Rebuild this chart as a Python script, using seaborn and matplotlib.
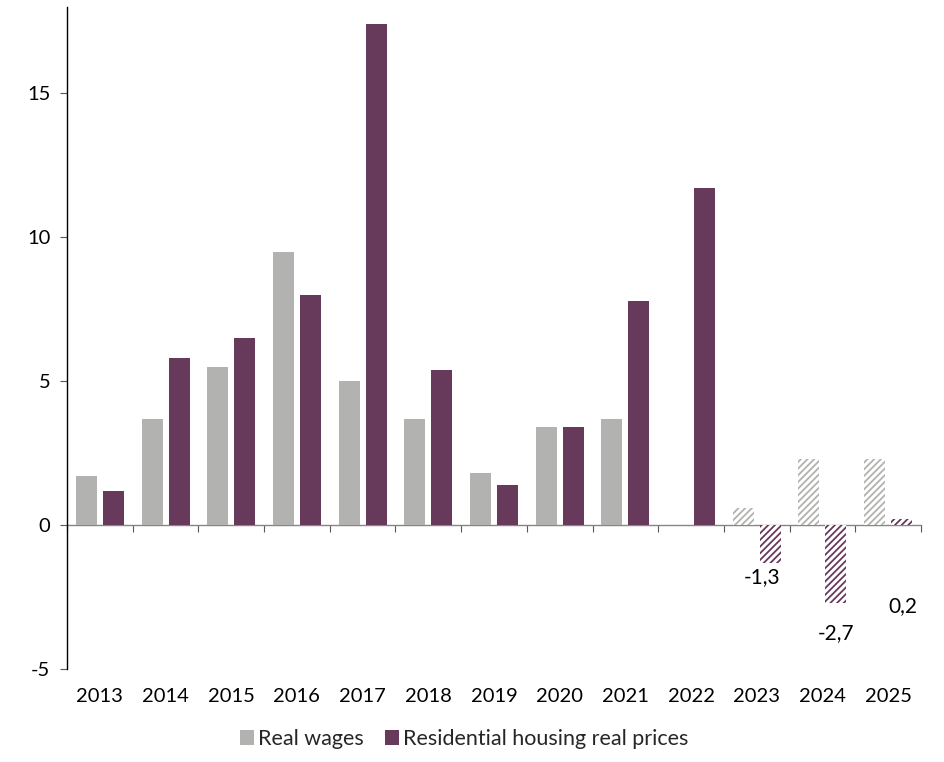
import matplotlib
matplotlib.use("Agg")
import matplotlib.pyplot as plt
import seaborn as sns
import pandas as pd

# Annual growth, %
years = ["2013", "2014", "2015", "2016", "2017", "2018", "2019",
         "2020", "2021", "2022", "2023", "2024", "2025"]
real_wages = [1.7, 3.7, 5.5, 9.5, 5.0, 3.7, 1.8, 3.4, 3.7, 0.0, 0.6, 2.3, 2.3]
housing_prices = [1.2, 5.8, 6.5, 8.0, 17.4, 5.4, 1.4, 3.4, 7.8, 11.7, -1.3, -2.7, 0.2]
series_names = ["Real wages", "Residential housing real prices"]
forecast_years = ["2023", "2024", "2025"]
labelled_years = ["2023", "2024", "2025"]

GRAY = "#b2b3b0"
PURPLE = "#673a5c"

df = pd.DataFrame({
    "year": years * 2,
    "value": real_wages + housing_prices,
    "series": [series_names[0]] * len(years) + [series_names[1]] * len(years),
})

sns.set_theme(style="white")
plt.rcParams["font.family"] = ["Lato", "DejaVu Sans"]
plt.rcParams["hatch.linewidth"] = 1.3

fig = plt.figure(figsize=(9.45, 7.62), dpi=100)
ax = fig.add_axes([0.0709, 0.122, 0.9037, 0.869])

sns.barplot(data=df, x="year", y="value", hue="series", order=years,
            hue_order=series_names, palette=[GRAY, PURPLE],
            width=0.822, gap=0.22, saturation=1, linewidth=0, ax=ax,
            legend=True)

# Forecast years drawn as hatched bars
for container, color in zip(ax.containers, [GRAY, PURPLE]):
    for bar, yr in zip(container.patches, years):
        if yr in forecast_years:
            bar.set_facecolor("white")
            bar.set_edgecolor(color)
            bar.set_hatch("/////")
            bar.set_linewidth(0)

# Value labels on the forecast housing bars (offsets in pixels)
label_offsets = {"2023": (-8, -15), "2024": (0, -30), "2025": (1, -87)}
for bar, yr, v in zip(ax.containers[1].patches, years, housing_prices):
    if yr in labelled_years:
        dx, dy = label_offsets[yr]
        ax.annotate(f"{v:.1f}".replace(".", ","),
                    xy=(bar.get_x() + bar.get_width() / 2, v),
                    xytext=(dx * 0.72, dy * 0.72), textcoords="offset points",
                    ha="center", va="center", fontsize=15, color="black")

ax.set_xlim(-0.5, len(years) - 0.5)
ax.set_ylim(-5, 18)
ax.set_yticks([-5, 0, 5, 10, 15])
ax.set_yticklabels(["-5", "0", "5", "10", "15"])
ax.set_xlabel("")
ax.set_ylabel("")

ax.tick_params(axis="y", which="both", left=True, length=5, width=0.8,
               color="#595959", pad=7, labelsize=14.5, labelcolor="black")
ax.tick_params(axis="x", length=0, pad=14, labelsize=14.5, labelcolor="black")

for side in ["top", "right", "bottom"]:
    ax.spines[side].set_visible(False)
ax.spines["left"].set_color("black")
ax.spines["left"].set_linewidth(1.0)

# Zero line with category boundary ticks
zero_axis = ax.secondary_xaxis(0, transform=ax.transData)
zero_axis.set_xticks([i - 0.5 for i in range(len(years) + 1)])
zero_axis.set_xticklabels([])
zero_axis.tick_params(axis="x", length=5, width=0.8, color="#595959",
                      direction="out")
zero_axis.spines["bottom"].set_color("#868686")
zero_axis.spines["bottom"].set_linewidth(1.0)

handles, labels = ax.get_legend_handles_labels()
ax.legend(handles[:2], labels[:2], loc="center",
          bbox_to_anchor=(0.465, -0.106), ncol=2, frameon=False,
          fontsize=15.5, handlelength=0.65, handleheight=0.65,
          handletextpad=0.22, columnspacing=0.95, borderaxespad=0)

fig.savefig("out.png", dpi=100)
